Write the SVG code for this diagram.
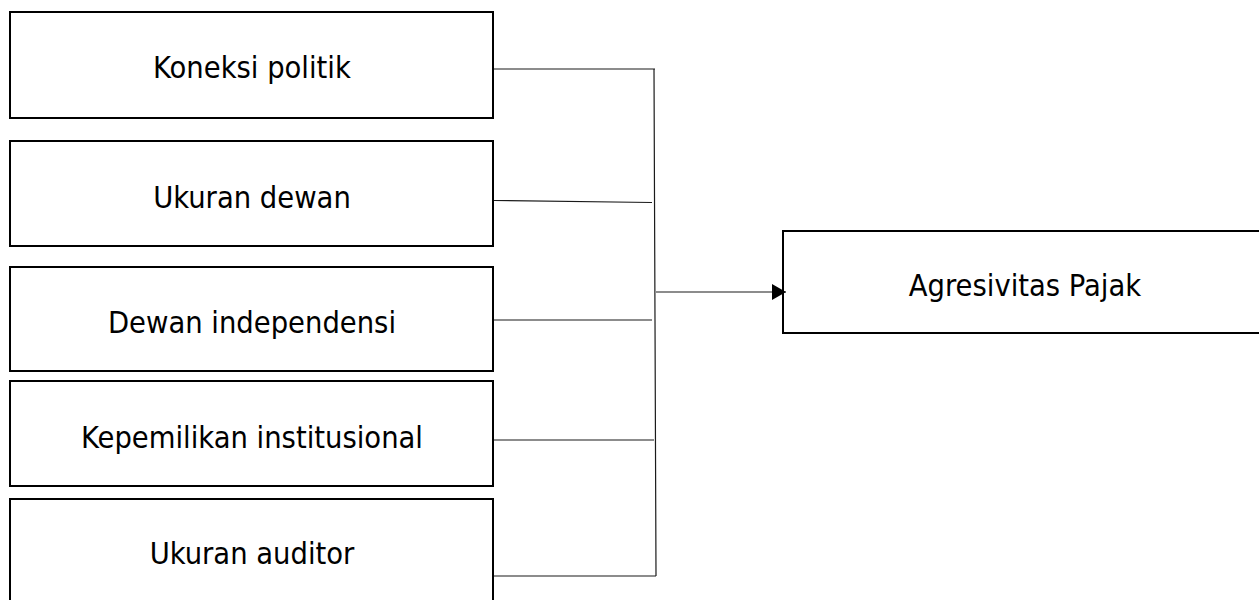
<svg xmlns="http://www.w3.org/2000/svg" width="1259" height="600" viewBox="0 0 1259 600">
  <style>
    .box { fill: #ffffff; stroke: #000000; stroke-width: 2; }
    .lbl { font-family: "DejaVu Sans Condensed", "DejaVu Sans", sans-serif; font-size: 30.5px; fill: #000000; text-anchor: middle; }
    .conn { stroke: #1a1a1a; stroke-width: 1.2; fill: none; }
  </style>
  <defs>
    <marker id="arrow" viewBox="0 0 14 16" refX="14" refY="8" markerWidth="14" markerHeight="16" markerUnits="userSpaceOnUse" orient="auto">
      <path d="M0,0 L14,8 L0,16 Z" fill="#000000"/>
    </marker>
  </defs>
  <rect width="1259" height="600" fill="#ffffff"/>
  <g id="n1">
    <rect class="box" x="10" y="12" width="483" height="106"/>
    <text class="lbl" x="252" y="78">Koneksi politik</text>
  </g>
  <g id="n2">
    <rect class="box" x="10" y="141" width="483" height="105"/>
    <text class="lbl" x="252" y="208">Ukuran dewan</text>
  </g>
  <g id="n3">
    <rect class="box" x="10" y="267" width="483" height="104"/>
    <text class="lbl" x="252" y="333">Dewan independensi</text>
  </g>
  <g id="n4">
    <rect class="box" x="10" y="381" width="483" height="105"/>
    <text class="lbl" x="252" y="448">Kepemilikan institusional</text>
  </g>
  <g id="n5">
    <rect class="box" x="10" y="499" width="483" height="110"/>
    <text class="lbl" x="252" y="564">Ukuran auditor</text>
  </g>
  <g id="target">
    <rect class="box" x="783" y="231" width="486" height="102"/>
    <text class="lbl" x="1025" y="296">Agresivitas Pajak</text>
  </g>
  <g id="connectors">
    <line class="conn" x1="494" y1="69" x2="655" y2="69"/>
    <line class="conn" x1="494" y1="200.5" x2="652" y2="202.5"/>
    <line class="conn" x1="494" y1="320" x2="652" y2="320"/>
    <line class="conn" x1="494" y1="440" x2="654" y2="440"/>
    <line class="conn" x1="494" y1="576" x2="656" y2="576"/>
    <polyline class="conn" points="654,69 655,320 656,576"/>
    <line class="conn" x1="656" y1="292" x2="786" y2="292" marker-end="url(#arrow)"/>
  </g>
</svg>
